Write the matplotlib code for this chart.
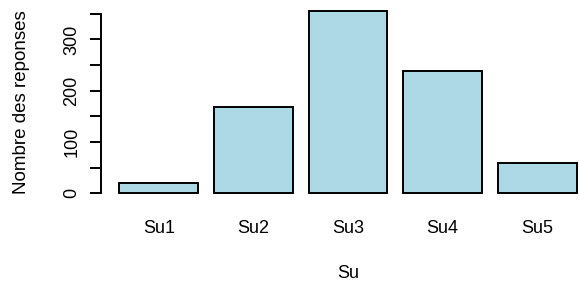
import numpy as np
import matplotlib
matplotlib.use("Agg")
import matplotlib.pyplot as plt

plt.rcParams["font.family"] = ["Liberation Sans", "DejaVu Sans"]
plt.rcParams["font.size"] = 13

# data
categories = ["Su1", "Su2", "Su3", "Su4", "Su5"]
counts = [20, 168, 356, 239, 60]
y_ticks = [0, 50, 100, 150, 200, 250, 300, 350]
y_labels = ["0", "", "100", "", "200", "", "300", ""]

bar_color = "#ADD8E6"
lw = 1.4

fig = plt.figure(figsize=(5.79, 2.84), dpi=100)
ax = fig.add_axes([101 / 579, (284 - 200.6) / 284, 494 / 579, 197.2 / 284])

# R-style barplot: width 1, space 0.2
x = 0.7 + 1.2 * np.arange(len(categories))
ax.bar(x, counts, width=1.0, color=bar_color, edgecolor="black", linewidth=lw)

ymax = max(counts)
ax.set_xlim(-0.032, 6.232)
ax.set_ylim(-0.04 * ymax, 1.04 * ymax)

for side in ["top", "right", "bottom"]:
    ax.spines[side].set_visible(False)
ax.spines["left"].set_bounds(0, 350)
ax.spines["left"].set_linewidth(lw)

ax.set_yticks(y_ticks)
ax.set_yticklabels(y_labels)
ax.tick_params(axis="y", length=8, width=lw, pad=7, labelrotation=90)
for lab in ax.get_yticklabels():
    lab.set_va("center")

ax.set_xticks(x)
ax.set_xticklabels(categories)
ax.tick_params(axis="x", length=0, pad=14)

ax.set_xlabel("Su")
ax.xaxis.set_label_coords(0.5, -0.325)
ax.set_ylabel("Nombre des reponses", fontsize=13.5)
ax.yaxis.set_label_coords(-0.144, 0.5)

fig.savefig("out.png", dpi=100)
